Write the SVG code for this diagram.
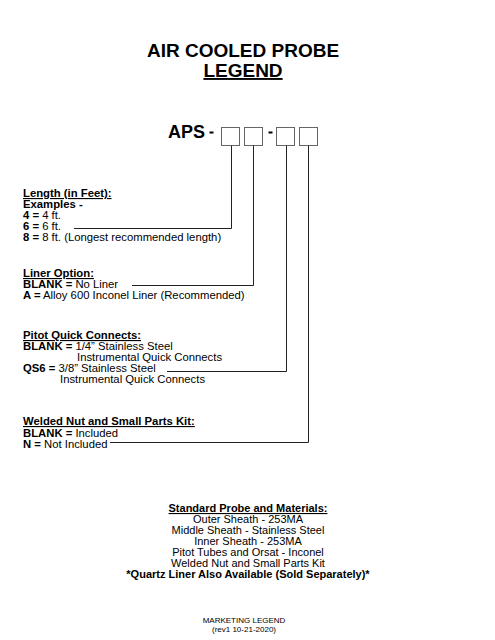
<svg xmlns="http://www.w3.org/2000/svg" width="495" height="640" viewBox="0 0 495 640">
<style>
text{font-family:"Liberation Sans",Arial,sans-serif;fill:#000}
.t{font-size:19px;font-weight:bold;text-anchor:middle}
.s{font-size:11px}
.l{font-size:11.3px}
.b{font-weight:bold}
.u{text-decoration:underline}
.c{text-anchor:middle}
.box{fill:#fff;stroke:#666;stroke-width:1}
.ln{fill:none;stroke:#222;stroke-width:1}
</style>
<rect width="495" height="640" fill="#fff"/>
<g id="title">
<text class="t" x="243" y="57">AIR COOLED PROBE</text>
<text class="t u" x="243" y="77">LEGEND</text>
</g>
<g id="code">
<text x="168" y="138" style="font-size:18px;font-weight:bold">APS</text>
<rect x="209.5" y="131.5" width="4" height="2" fill="#000"/>
<rect x="268.5" y="131.5" width="4" height="2" fill="#000"/>
<rect class="box" x="221.5" y="127.5" width="18" height="18"/>
<rect class="box" x="244.5" y="127.5" width="18" height="18"/>
<rect class="box" x="276.5" y="127.5" width="18" height="18"/>
<rect class="box" x="299.5" y="127.5" width="18" height="18"/>
</g>
<g id="connectors">
<polyline class="ln" points="231.5,145.5 231.5,228.5 74,228.5"/>
<polyline class="ln" points="253.5,145.5 253.5,285.5 132,285.5"/>
<polyline class="ln" points="286.5,145.5 286.5,371.5 167,371.5"/>
<polyline class="ln" points="308.5,145.5 308.5,442.5 110,442.5"/>
</g>
<g id="length">
<text class="l b u" x="23" y="197">Length (in Feet):</text>
<text class="l b" x="23" y="208">Examples -</text>
<text class="l" x="23" y="219"><tspan class="b">4 =</tspan> 4 ft.</text>
<text class="l" x="23" y="230"><tspan class="b">6 =</tspan> 6 ft.</text>
<text class="l" x="23" y="241"><tspan class="b">8 =</tspan> 8 ft. (Longest recommended length)</text>
</g>
<g id="liner">
<text class="l b u" x="23" y="277">Liner Option:</text>
<text class="l" x="23" y="288"><tspan class="b">BLANK =</tspan> No Liner</text>
<text class="l" x="23" y="299"><tspan class="b">A =</tspan> Alloy 600 Inconel Liner (Recommended)</text>
</g>
<g id="pitot">
<text class="l b u" x="23" y="339">Pitot Quick Connects:</text>
<text class="l" x="23" y="350"><tspan class="b">BLANK =</tspan> 1/4” Stainless Steel</text>
<text class="l" x="77" y="361">Instrumental Quick Connects</text>
<text class="l" x="23" y="372"><tspan class="b">QS6 =</tspan> 3/8” Stainless Steel</text>
<text class="l" x="60" y="383">Instrumental Quick Connects</text>
</g>
<g id="welded">
<text class="l b u" x="23" y="425">Welded Nut and Small Parts Kit:</text>
<text class="l" x="23" y="437"><tspan class="b">BLANK =</tspan> Included</text>
<text class="l" x="23" y="448"><tspan class="b">N =</tspan> Not Included</text>
</g>
<g id="standard">
<text class="s b u c" x="248" y="512">Standard Probe and Materials:</text>
<text class="s c" x="248" y="523">Outer Sheath - 253MA</text>
<text class="s c" x="248" y="534">Middle Sheath - Stainless Steel</text>
<text class="s c" x="248" y="545">Inner Sheath - 253MA</text>
<text class="s c" x="248" y="556">Pitot Tubes and Orsat - Inconel</text>
<text class="s c" x="248" y="567">Welded Nut and Small Parts Kit</text>
<text class="s b c" x="248" y="578">*Quartz Liner Also Available (Sold Separately)*</text>
</g>
<g id="footer">
<text class="c" x="244" y="623" style="font-size:8px">MARKETING LEGEND</text>
<text class="c" x="244" y="632" style="font-size:8px">(rev1 10-21-2020)</text>
</g>
</svg>
